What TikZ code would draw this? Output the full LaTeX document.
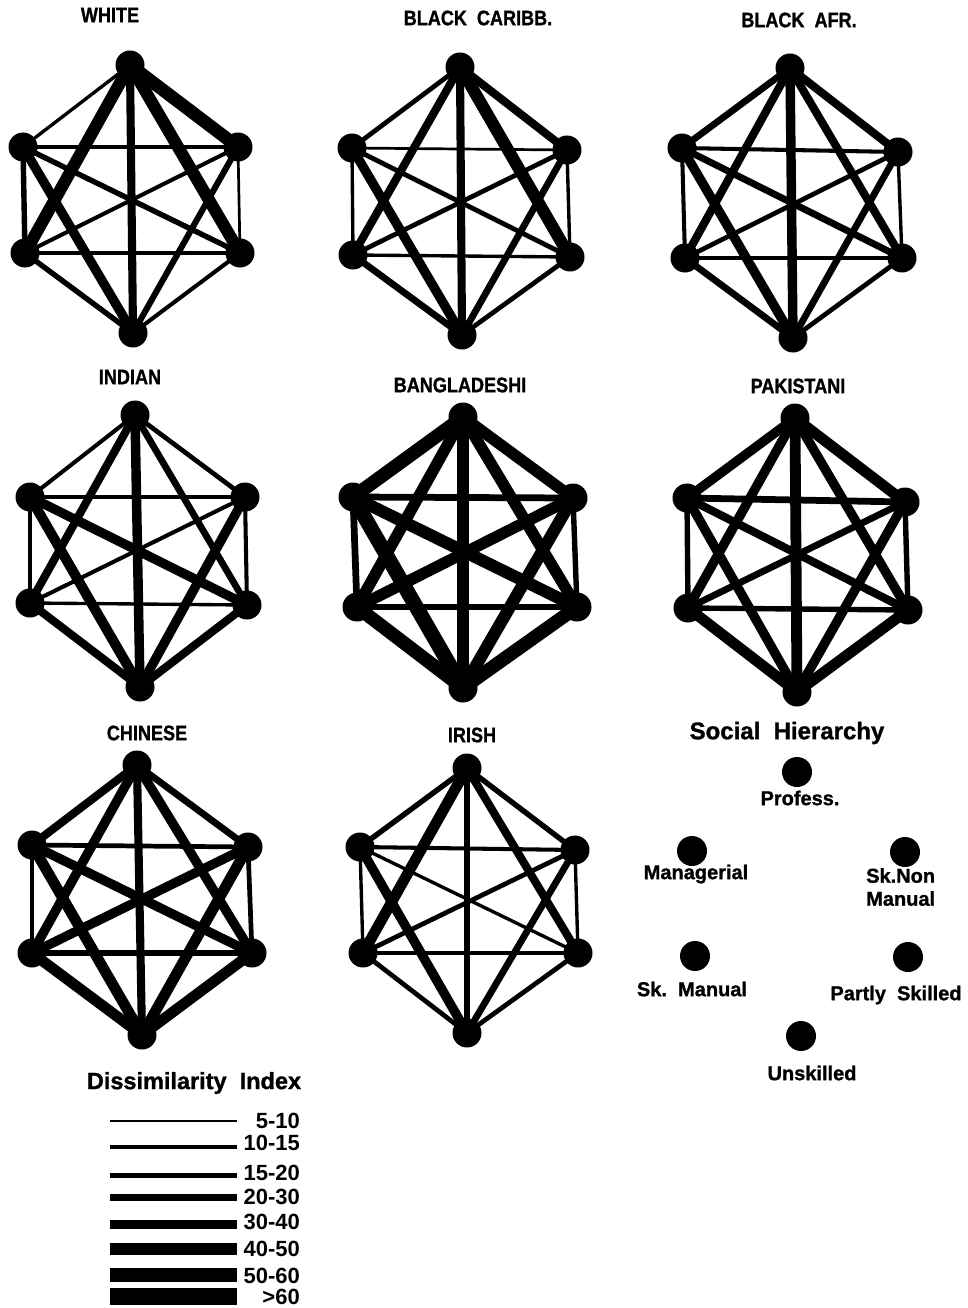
\documentclass[tikz,border=0pt]{standalone}
\usepackage{fontspec}
\setmainfont{Liberation Sans}
\newfontfamily\heavyfont{Liberation Sans Bold}[FakeBold=1.2]
\newfontfamily\midfont{Liberation Sans Bold}
\tikzset{
  vert/.style={circle, fill=black, inner sep=0pt, minimum size=29pt},
  hvert/.style={circle, fill=black, inner sep=0pt, minimum size=30pt},
  gtitle/.style={font=\fontsize{21}{22}\heavyfont, inner sep=0pt},
  htitle/.style={font=\fontsize{24}{26}\heavyfont, inner sep=0pt},
  hlab/.style={font=\fontsize{20}{23}\heavyfont, inner sep=0pt},
  leglab/.style={font=\fontsize{22}{24}\midfont, inner sep=0pt, anchor=east},
}
\newcommand{\hexg}[7]{%
  \node[vert] (#1P) at (#2) {};
  \node[vert] (#1M) at (#3) {};
  \node[vert] (#1N) at (#4) {};
  \node[vert] (#1S) at (#5) {};
  \node[vert] (#1Q) at (#6) {};
  \node[vert] (#1U) at (#7) {};
}
\newcommand{\hexe}[2]{%
  \foreach \a/\b/\w in {#2} {\draw[line width=1.35*\w pt] (#1\a.center) -- (#1\b.center);}
}
\begin{document}
\begin{tikzpicture}[x=1pt,y=-1pt]
\useasboundingbox (0,0) rectangle (968,1308);

% ---------- titles ----------
\node[gtitle] (t1) at (110,15) {\scalebox{0.86}[1]{WHITE}};
\node[gtitle] (t2) at (478,18) {\scalebox{0.86}[1]{BLACK\ \ CARIBB.}};
\node[gtitle] (t3) at (799,20) {\scalebox{0.86}[1]{BLACK\ \ AFR.}};
\node[gtitle] (t4) at (130,377) {\scalebox{0.86}[1]{INDIAN}};
\node[gtitle] (t5) at (460,385) {\scalebox{0.86}[1]{BANGLADESHI}};
\node[gtitle] (t6) at (798,386) {\scalebox{0.86}[1]{PAKISTANI}};
\node[gtitle] (t7) at (147,733) {\scalebox{0.86}[1]{CHINESE}};
\node[gtitle] (t8) at (472,735) {\scalebox{0.86}[1]{IRISH}};

% ---------- WHITE ----------
\hexg{a}{130,65}{23,147}{238,147}{25,253}{240,253}{133,333}
\hexe{a}{P/M/2.5, P/N/9.5, P/S/9, P/Q/9, P/U/6, M/N/2.5, M/S/4, M/Q/4, M/U/7,
  N/S/3, N/Q/2, N/U/4.5, S/Q/3, S/U/4, Q/U/3}

% ---------- BLACK CARIBB. ----------
\hexg{b}{460,67}{352,148}{567,150}{353,255}{570,257}{462,335}
\hexe{b}{P/M/3.5, P/N/6, P/S/6, P/Q/9, P/U/6, M/N/2, M/S/2.5, M/Q/3.5, M/U/7,
  N/S/3.5, N/Q/2.5, N/U/5, S/Q/2.5, S/U/5, Q/U/3.5}

% ---------- BLACK AFR. ----------
\hexg{c}{790,68}{682,148}{898,152}{685,258}{902,258}{793,338}
\hexe{c}{P/M/5, P/N/6, P/S/6, P/Q/6, P/U/7, M/N/3, M/S/3, M/Q/5, M/U/7,
  N/S/3.5, N/Q/2.5, N/U/5, S/Q/3.5, S/U/5, Q/U/3.5}

% ---------- INDIAN ----------
\hexg{d}{135,415}{30,497}{245,497}{30,603}{247,605}{140,687}
\hexe{d}{P/M/3, P/N/3.5, P/S/6, P/Q/5, P/U/7, M/N/2.5, M/S/3.5, M/Q/7, M/U/7.5,
  N/S/3, N/Q/3, N/U/7, S/Q/2.5, S/U/6, Q/U/6}

% ---------- BANGLADESHI ----------
\hexg{e}{463,417}{353,497}{573,498}{357,607}{577,607}{463,688}
\hexe{e}{P/M/10, P/N/8.5, P/S/8.5, P/Q/8.5, P/U/8.5, M/N/5, M/S/5, M/Q/9, M/U/11,
  N/S/8.5, N/Q/4, N/U/9, S/Q/5, S/U/10, Q/U/10}

% ---------- PAKISTANI ----------
\hexg{f}{795,418}{687,498}{905,502}{688,608}{908,610}{797,692}
\hexe{f}{P/M/7, P/N/8, P/S/7, P/Q/7, P/U/8, M/N/5, M/S/4, M/Q/6, M/U/7,
  N/S/5, N/Q/4, N/U/7, S/Q/4, S/U/8, Q/U/8}

% ---------- CHINESE ----------
\hexg{g}{137,765}{32,845}{248,847}{32,953}{252,953}{142,1035}
\hexe{g}{P/M/6, P/N/5, P/S/7, P/Q/7, P/U/6, M/N/3.5, M/S/3.5, M/Q/7, M/U/8,
  N/S/7, N/Q/3.5, N/U/8, S/Q/4, S/U/8, Q/U/8}

% ---------- IRISH ----------
\hexg{h}{467,768}{360,847}{575,850}{363,953}{578,953}{467,1033}
\hexe{h}{P/M/4, P/N/4, P/S/8, P/Q/6, P/U/5, M/N/3, M/S/2.5, M/Q/2.5, M/U/7,
  N/S/3.5, N/Q/2.5, N/U/5, S/Q/3, S/U/3.5, Q/U/3.5}

% ---------- Social hierarchy key ----------
\node[htitle] (sht) at (787,733) {Social\ \ Hierarchy};
\node[hvert] (kP) at (797,772) {};
\node[hlab] (kPl) at (800,798) {Profess.};
\node[hvert] (kM) at (692,851) {};
\node[hlab] (kMl) at (696,874) {Managerial};
\node[hvert] (kN) at (905,852) {};
\node[hlab, align=left, anchor=north west] (kNl) at (866,868) {Sk.Non\\Manual};
\node[hvert] (kS) at (695,956) {};
\node[hlab] (kSl) at (692,989) {Sk.\ \ Manual};
\node[hvert] (kQ) at (908,957) {};
\node[hlab] (kQl) at (896,995) {Partly\ \ Skilled};
\node[hvert] (kU) at (801,1036) {};
\node[hlab] (kUl) at (812,1073) {Unskilled};

% ---------- Dissimilarity legend ----------
\node[font=\fontsize{23.5}{26}\heavyfont, inner sep=0pt] (lt) at (194,1083) {Dissimilarity\ \ Index};
\foreach \y/\w/\t [count=\i] in {1121/2.5/5-10, 1147/3.2/10-15, 1175/5/15-20, 1197/7/20-30,
   1224/9/30-40, 1249/12/40-50, 1275/13.5/50-60, 1296/17/>60} {
  \coordinate (la\i) at (110,\y);
  \coordinate (lb\i) at (237,\y);
  \draw[line width=\w pt] (la\i) -- (lb\i);
}
\node[leglab] (l1) at (300,1121) {5-10};
\node[leglab] (l2) at (300,1143) {10-15};
\node[leglab] (l3) at (300,1173) {15-20};
\node[leglab] (l4) at (300,1197) {20-30};
\node[leglab] (l5) at (300,1222) {30-40};
\node[leglab] (l6) at (300,1249) {40-50};
\node[leglab] (l7) at (300,1276) {50-60};
\node[leglab] (l8) at (300,1297) {>60};
\end{tikzpicture}
\end{document}
